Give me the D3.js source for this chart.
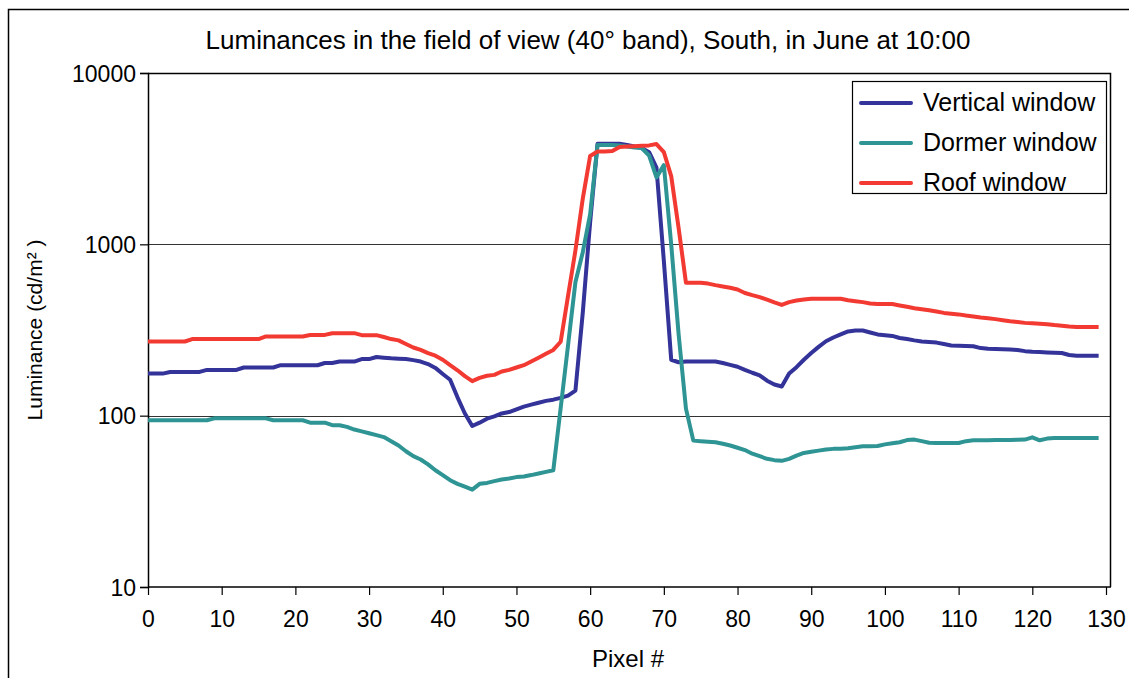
<!DOCTYPE html>
<html>
<head>
<meta charset="utf-8">
<script src="https://cdn.jsdelivr.net/npm/d3@7"></script>
<style>
  html, body { margin: 0; padding: 0; background: #fff; }
  svg { display: block; font-family: "Liberation Sans", Arial, sans-serif; }
</style>
</head>
<body>
<svg id="chart" width="1129" height="678"></svg>
<script>
// ---------- data ----------
const titleText = "Luminances in the field of view (40° band), South, in June at 10:00";
const xLabel = "Pixel #";
const yLabel = "Luminance (cd/m² )";
const seriesNames = ["Vertical window", "Dormer window", "Roof window"];
const xTicks = [0, 10, 20, 30, 40, 50, 60, 70, 80, 90, 100, 110, 120, 130];
const yTicks = [10, 100, 1000, 10000];

const verticalWindow = [
  176,176,176,180,180,180,180,180,185,185,
  185,185,185,191,191,191,191,191,197,197,
  197,197,197,197,203,203,207,207,207,214,
  214,220,218,216,215,214,211,207,200,190,
  175,162,128,103,87,91,96,99,103,105,
  109,113,116,119,122,124,127,131,140,400,
  1350,3860,3860,3860,3860,3800,3720,3650,3450,2800,
  800,212,205,207,207,207,207,207,203,198,
  193,185,178,172,160,152,148,176,192,212,
  232,252,272,286,298,310,314,314,306,298,
  295,292,284,280,275,271,269,267,262,257,
  256,255,254,248,246,245,244,243,242,238,
  236,235,234,233,232,226,224,224,224,224
];
const dormerWindow = [
  94,94,94,94,94,94,94,94,94,96.5,
  96.5,96.5,96.5,96.5,96.5,96.5,96.5,94,94,94,
  94,94,91,91,91,88,88,86,83,81,
  79,77,75,71,67,62,58,55.5,52,48,
  45,42,40,38.5,37,40,40.5,41.5,42.4,43,
  43.8,44.2,45,46,47,48,111,258,600,900,
  1500,3800,3800,3800,3780,3720,3670,3650,3300,2460,
  2900,1000,300,110,71.5,71,70.5,70,68.5,67,
  65,63,60,58,56,55,54.5,56,58.5,60.6,
  61.5,62.5,63.5,64,64.2,64.5,65.5,66.2,66.2,66.5,
  68,69,70,72,72.5,71,69.5,69.3,69.3,69.3,
  69.3,71,71.8,71.8,71.8,72,72,72,72.3,72.5,
  74.7,71.8,73.5,74,74,74,74,74,74,74
];
const roofWindow = [
  271,271,271,271,271,271,280,280,280,280,
  280,280,280,280,280,280,290,290,290,290,
  290,290,296,296,296,303,303,303,303,295,
  295,295,288,280,275,262,250,242,232,224,
  212,197,184,170,159,166,171,173,181,185,
  191,197,207,218,230,242,270,500,920,1850,
  3280,3478,3478,3500,3700,3720,3740,3760,3780,3848,
  3450,2500,1250,597,597,597,590,578,568,558,
  545,520,505,492,475,458,443,460,470,476,
  481,481,481,481,481,472,466,460,452,448,
  448,448,440,432,424,418,412,405,398,394,
  390,384,379,374,370,366,361,356,352,348,
  346,344,342,338,335,331,329,329,329,329
];
const seriesValues = [verticalWindow, dormerWindow, roofWindow];
const seriesColors = ["#333399", "#2f9494", "#f23a32"];

// ---------- layout ----------
const svg = d3.select("#chart");
const plot = { left: 148, top: 73, right: 1110, bottom: 587 };

const x = d3.scaleLinear().domain([0, 130]).range([plot.left, 1106]);
const y = d3.scaleLog().domain([10, 10000]).range([plot.bottom, plot.top]);

// outer chart frame
svg.append("path")
  .attr("d", `M8.5,678 L8.5,9.5 L1129,9.5`)
  .attr("fill", "none").attr("stroke", "#000").attr("stroke-width", 1.5);

// title
svg.append("text")
  .attr("x", 588).attr("y", 49)
  .attr("text-anchor", "middle")
  .attr("font-size", 26)
  .attr("fill", "#000")
  .text(titleText);

// gridlines (major, inner decades)
svg.append("g").selectAll("line")
  .data(yTicks.filter(d => d > 10 && d < 10000))
  .join("line")
  .attr("x1", plot.left).attr("x2", plot.right)
  .attr("y1", d => Math.round(y(d)) + 0.5).attr("y2", d => Math.round(y(d)) + 0.5)
  .attr("stroke", "#333").attr("stroke-width", 1);

// plot border top & right
svg.append("path")
  .attr("d", `M${plot.left},${plot.top + 0.5} L${plot.right + 0.5},${plot.top + 0.5} L${plot.right + 0.5},${plot.bottom}`)
  .attr("fill", "none").attr("stroke", "#000").attr("stroke-width", 1.5);

// y axis
const yAxis = d3.axisLeft(y)
  .tickValues(yTicks)
  .tickFormat(d3.format("d"))
  .tickSize(8)
  .tickPadding(4);
const gy = svg.append("g")
  .attr("transform", `translate(${plot.left},0)`)
  .call(yAxis);
gy.select(".domain").attr("stroke", "#000").attr("stroke-width", 1.5);
gy.selectAll(".tick line").attr("stroke", "#000").attr("stroke-width", 1.2);
gy.selectAll(".tick text")
  .attr("font-size", 23).attr("font-family", "Liberation Sans, Arial, sans-serif")
  .attr("fill", "#000").attr("dy", "0.36em");

// x axis
const xAxis = d3.axisBottom(x)
  .tickValues(xTicks)
  .tickFormat(d3.format("d"))
  .tickSize(8)
  .tickPadding(16);
const gx = svg.append("g")
  .attr("transform", `translate(0,${plot.bottom})`)
  .call(xAxis);
gx.select(".domain").remove();
gx.selectAll(".tick line").attr("stroke", "#000").attr("stroke-width", 1.2);
gx.selectAll(".tick text")
  .attr("font-size", 23).attr("font-family", "Liberation Sans, Arial, sans-serif")
  .attr("fill", "#000");
svg.append("line")
  .attr("x1", plot.left).attr("x2", plot.right + 1)
  .attr("y1", plot.bottom).attr("y2", plot.bottom)
  .attr("stroke", "#000").attr("stroke-width", 1.5);

// axis titles
svg.append("text")
  .attr("x", 628).attr("y", 667)
  .attr("text-anchor", "middle")
  .attr("font-size", 24)
  .text(xLabel);

svg.append("text")
  .attr("transform", "translate(42,330) rotate(-90)")
  .attr("text-anchor", "middle")
  .attr("font-size", 21)
  .text(yLabel);

// series lines
const line = d3.line()
  .x((d, i) => x(i))
  .y(d => y(d));

svg.append("g").selectAll("path")
  .data(seriesValues)
  .join("path")
  .attr("d", d => line(d))
  .attr("fill", "none")
  .attr("stroke", (d, i) => seriesColors[i])
  .attr("stroke-width", 4)
  .attr("stroke-linejoin", "round");

// legend
const legend = svg.append("g");
legend.append("rect")
  .attr("x", 852.5).attr("y", 81.5).attr("width", 254).attr("height", 112)
  .attr("fill", "#fff").attr("stroke", "#000").attr("stroke-width", 1.2);
const items = legend.selectAll("g.item")
  .data(seriesNames)
  .join("g").attr("class", "item")
  .attr("transform", (d, i) => `translate(0,${103 + i * 40})`);
items.append("line")
  .attr("x1", 861).attr("x2", 911)
  .attr("stroke", (d, i) => seriesColors[i])
  .attr("stroke-width", 4).attr("stroke-linecap", "round");
items.append("text")
  .attr("x", 923).attr("y", 8)
  .attr("font-size", 25)
  .text(d => d);
</script>
</body>
</html>
